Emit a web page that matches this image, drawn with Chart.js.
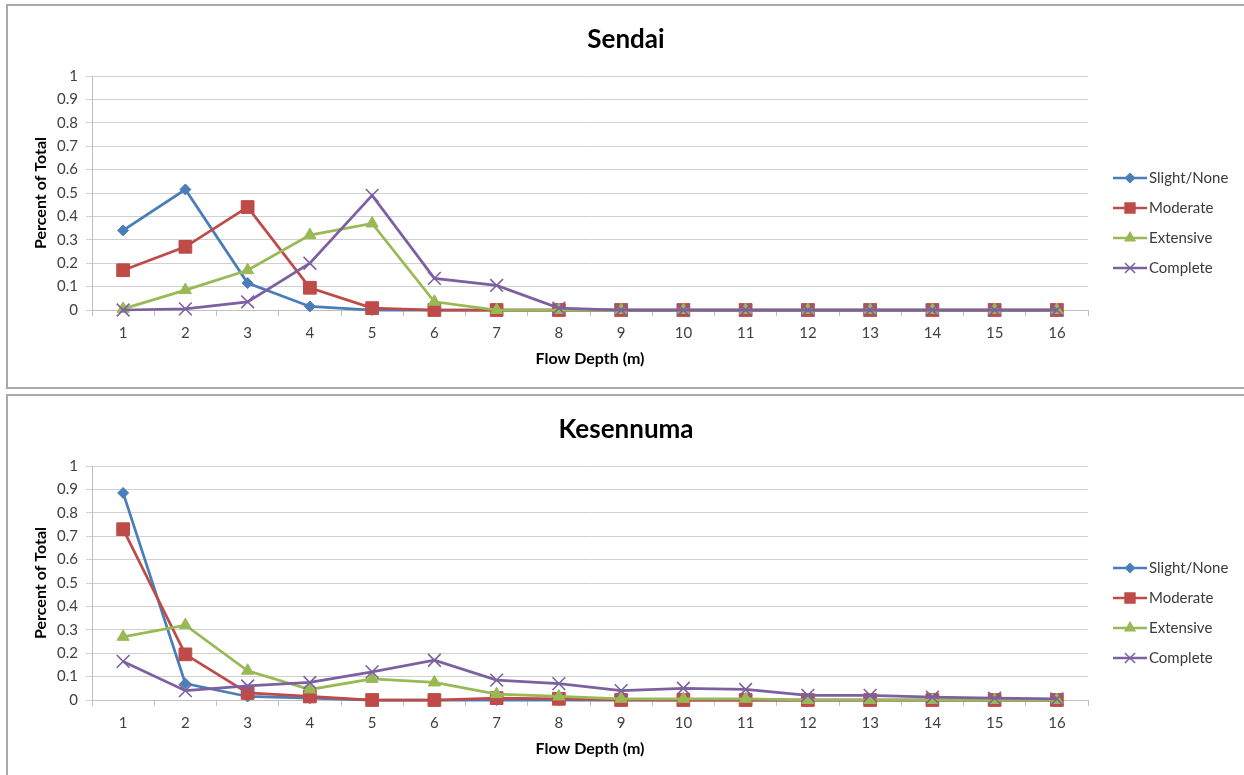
<!DOCTYPE html>
<html>
<head>
<meta charset="utf-8">
<script src="https://cdn.jsdelivr.net/npm/chart.js@4.4.1/dist/chart.umd.min.js"></script>
<style>
  body { margin: 0; background: #fff; overflow: hidden; }
  .box {
    position: absolute;
    left: 6px;
    width: 1250px;
    height: 381px;
    border: 2px solid #a9a9a9;
    overflow: hidden;
    background: #fff;
  }
  #box1 { top: 4px; }
  #box2 { top: 394px; }
  canvas { display: block; }
</style>
</head>
<body>
<div class="box" id="box1"><canvas id="sendai" width="1236" height="381"></canvas></div>
<div class="box" id="box2"><canvas id="kesennuma" width="1236" height="381"></canvas></div>
<script>
const depths = ["1", "2", "3", "4", "5", "6", "7", "8", "9", "10", "11", "12", "13", "14", "15", "16"];
const yTicks = [0, 0.1, 0.2, 0.3, 0.4, 0.5, 0.6, 0.7, 0.8, 0.9, 1];

const seriesNames = ["Slight/None", "Moderate", "Extensive", "Complete"];
const seriesColors = ["#4a7ebb", "#be4b48", "#98b954", "#7d60a0"];
const seriesMarkers = ["rectRot", "rect", "triangle", "crossRot"];
const markerSizes = [5.5, 9, 7, 9];

// Sendai
const sendaiSlight = [0.34, 0.515, 0.115, 0.015, 0, 0, 0, 0, 0, 0, 0, 0, 0, 0, 0, 0];
const sendaiModerate = [0.17, 0.27, 0.44, 0.095, 0.008, 0, 0, 0, 0, 0, 0, 0, 0, 0, 0, 0];
const sendaiExtensive = [0.005, 0.085, 0.17, 0.32, 0.37, 0.035, 0, 0, 0, 0, 0, 0, 0, 0, 0, 0];
const sendaiComplete = [0, 0.005, 0.035, 0.2, 0.49, 0.135, 0.105, 0.008, 0, 0, 0, 0, 0, 0, 0, 0];

// Kesennuma
const kesSlight = [0.885, 0.07, 0.015, 0.008, 0, 0, 0, 0, 0, 0, 0, 0, 0, 0, 0, 0];
const kesModerate = [0.73, 0.195, 0.03, 0.015, 0, 0, 0.008, 0.005, 0, 0, 0, 0, 0, 0, 0, 0];
const kesExtensive = [0.27, 0.32, 0.125, 0.045, 0.09, 0.075, 0.025, 0.015, 0.005, 0.005, 0.005, 0, 0, 0, 0, 0];
const kesComplete = [0.165, 0.04, 0.06, 0.075, 0.12, 0.17, 0.085, 0.07, 0.04, 0.05, 0.045, 0.02, 0.02, 0.012, 0.008, 0.005];

const FONT = "Lato, 'Open Sans', sans-serif";

// title centred on the whole canvas + legend on the right (line + marker like excel)
const excelDecor = {
  id: "excelDecor",
  afterDraw(chart, args, opts) {
    const ctx = chart.ctx;
    const area = chart.chartArea;

    ctx.save();
    ctx.fillStyle = "#000";
    ctx.font = "bold 26px " + FONT;
    ctx.textAlign = "center";
    ctx.textBaseline = "middle";
    ctx.fillText(opts.text, chart.width / 2, 34);
    ctx.restore();

    const x0 = area.right + 25;
    const x1 = area.right + 59;
    chart.data.datasets.forEach((ds, i) => {
      const y = area.top + 102 + i * 30;
      ctx.save();
      ctx.strokeStyle = ds.borderColor;
      ctx.fillStyle = ds.backgroundColor;
      ctx.lineWidth = 2.5;
      ctx.beginPath();
      ctx.moveTo(x0, y);
      ctx.lineTo(x1, y);
      ctx.stroke();
      ctx.lineWidth = 1.5;
      Chart.helpers.drawPoint(ctx, {
        pointStyle: ds.pointStyle,
        radius: ds.pointStyle === "rect" ? 7 : ds.pointRadius * 0.8,
        borderWidth: 1.5,
        rotation: 0,
      }, (x0 + x1) / 2, y);
      ctx.fillStyle = "#3a3a3a";
      ctx.font = "15px " + FONT;
      ctx.textBaseline = "middle";
      ctx.textAlign = "left";
      ctx.fillText(seriesNames[i], x1 + 2, y);
      ctx.restore();
    });
  },
};

function makeChart(id, title, values) {
  const datasets = values.map((vals, i) => ({
    label: seriesNames[i],
    data: vals,
    borderColor: seriesColors[i],
    backgroundColor: seriesColors[i],
    borderWidth: 2.75,
    pointStyle: seriesMarkers[i],
    pointRadius: markerSizes[i],
    pointBorderWidth: seriesMarkers[i] === "crossRot" ? 1.6 : 1,
    pointBorderColor: seriesColors[i],
    pointBackgroundColor: seriesColors[i],
    tension: 0,
    clip: false,
    order: 4 - i,
  }));

  return new Chart(document.getElementById(id), {
    type: "line",
    data: { labels: depths, datasets: datasets },
    plugins: [excelDecor],
    options: {
      responsive: false,
      animation: false,
      layout: { padding: { top: 70, left: 0, right: 156, bottom: 0 } },
      plugins: {
        legend: { display: false },
        tooltip: { enabled: false },
        title: { display: false },
        excelDecor: { text: title },
      },
      scales: {
        x: {
          type: "category",
          offset: true,
          afterFit: (scale) => { scale.height = 77; },
          grid: {
            offset: true,
            drawOnChartArea: false,
            drawTicks: true,
            tickLength: 6,
            color: "#bfbfbf",
          },
          border: { color: "#bfbfbf", width: 1 },
          ticks: {
            color: "#404040",
            padding: 8,
            maxRotation: 0,
            font: { family: FONT, size: 15 },
          },
          title: {
            display: true,
            text: "Flow Depth (m)",
            color: "#000",
            font: { family: FONT, size: 16, weight: "bold" },
            padding: { top: 0, bottom: 19 },
          },
        },
        y: {
          min: 0,
          max: 1,
          afterFit: (scale) => { scale.width = 84; },
          afterBuildTicks: (scale) => {
            scale.ticks = yTicks.map((v) => ({ value: v }));
          },
          grid: {
            color: "#d0d0d0",
            lineWidth: 1,
            drawTicks: true,
            tickLength: 6,
          },
          border: { color: "#bfbfbf", width: 1 },
          ticks: {
            color: "#404040",
            padding: 8,
            font: { family: FONT, size: 15 },
            callback: (v) => String(Math.round(v * 10) / 10),
          },
          title: {
            display: true,
            text: "Percent of Total",
            color: "#000",
            font: { family: FONT, size: 16, weight: "bold" },
            padding: { top: 23, bottom: 0 },
          },
        },
      },
    },
  });
}

makeChart("sendai", "Sendai", [sendaiSlight, sendaiModerate, sendaiExtensive, sendaiComplete]);
makeChart("kesennuma", "Kesennuma", [kesSlight, kesModerate, kesExtensive, kesComplete]);
</script>
</body>
</html>
